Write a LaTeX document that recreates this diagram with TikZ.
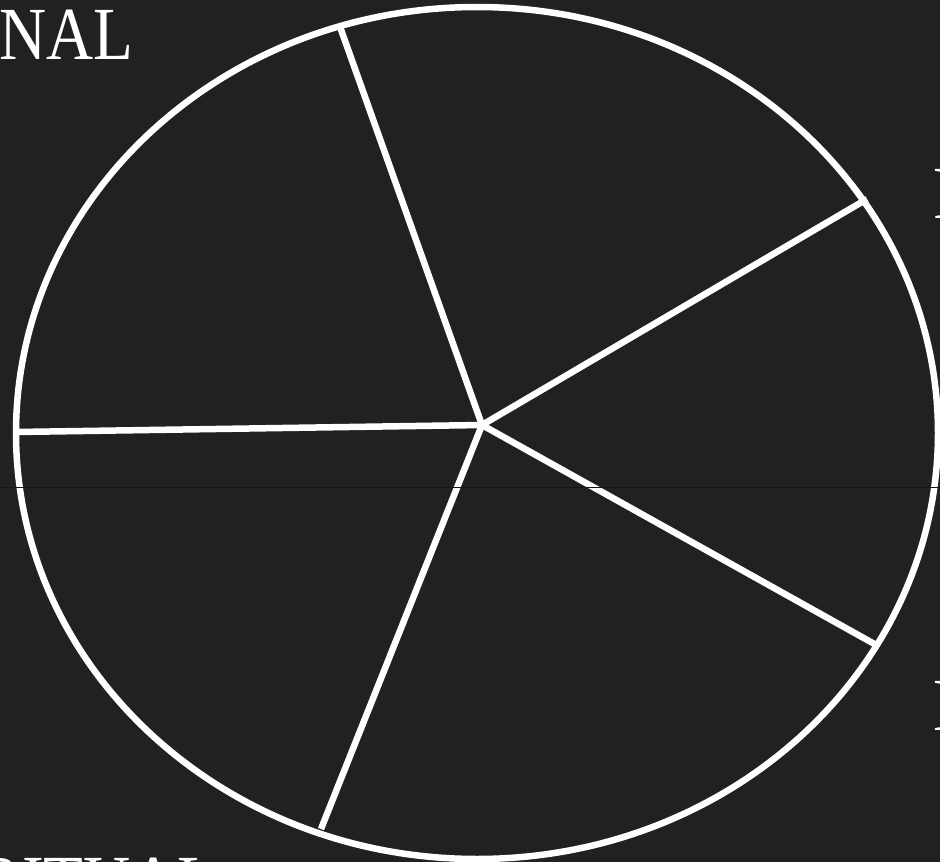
\documentclass[tikz,border=0pt]{standalone}
\usepackage{fontspec}
\setmainfont{Liberation Serif}
\usepackage{graphicx}
\usetikzlibrary{positioning, calc}
\definecolor{board}{RGB}{33,33,33}
\definecolor{scan}{RGB}{22,22,22}

\begin{document}
\begin{tikzpicture}[x=1pt, y=1pt,
        rim/.style={draw=white, line width=6.5pt},
        spoke/.style={draw=white, line width=6.5pt},
        label/.style={text=white, inner sep=0pt, font=\fontsize{75}{80}\selectfont}]

            % Board
            \clip (0,0) rectangle (940,-862);
            \fill[board] (0,0) rectangle (940,-862);

            % Hub and rim points
            \coordinate (hub) at (482,-425);
            \coordinate (rimA) at (339,-24);
            \coordinate (rimB) at (867,-199);
            \coordinate (rimC) at (878,-646);
            \coordinate (rimD) at (321,-829);
            \coordinate (rimE) at (16,-432);

            % Spokes
            \foreach \p in {rimA,rimB,rimC,rimD,rimE}
                \draw[spoke] (hub) -- (\p);

            % Rim
            \draw[rim] (477,-433) ellipse [x radius=461, y radius=426];

            % Faint scan line
            \draw[scan, line width=0.7pt] (0,-487) -- (940,-487);

            % Labels (run off the edges)
            \node[label, anchor=base east] (emo) at (134,-59) {\scalebox{0.87}[1]{EMOTIONAL}};
            \node[label, anchor=base west] (phys) at (933,-218) {\scalebox{0.87}[1]{PHYSICAL}};
            \node[label, anchor=base west] (ment) at (933,-730) {\scalebox{0.87}[1]{MENTAL}};
            \node[label, anchor=base east] (spir) at (218,-907) {\scalebox{0.87}[1]{SPIRITUAL}};

        \end{tikzpicture}
\end{document}
